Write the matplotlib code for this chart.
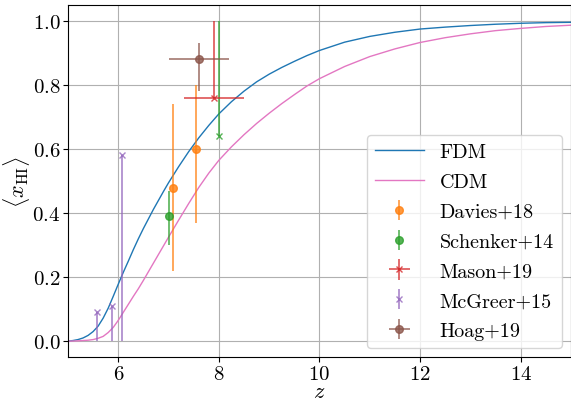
import numpy as np
import matplotlib
matplotlib.use("Agg")
import matplotlib.pyplot as plt

plt.rcParams["font.family"] = "serif"
plt.rcParams["font.serif"] = ["cmr10", "DejaVu Serif"]
plt.rcParams["mathtext.fontset"] = "cm"
plt.rcParams["axes.formatter.use_mathtext"] = True
plt.rcParams["font.size"] = 15

# reionization histories
z_fdm = [5.0, 5.1, 5.2, 5.3, 5.4, 5.5, 5.6, 5.7, 5.8, 5.9, 6.0, 6.1, 6.2, 6.3, 6.4,
         6.5, 6.6, 6.7, 6.8, 6.9, 7.0, 7.2, 7.4, 7.6, 7.8, 8.0, 8.25, 8.5, 8.75,
         9.0, 9.25, 9.5, 9.75, 10.0, 10.5, 11.0, 11.5, 12.0, 12.5, 13.0, 13.5,
         14.0, 14.5, 15.0]
x_fdm = [0.0, 0.002, 0.005, 0.01, 0.018, 0.03, 0.047, 0.072, 0.103, 0.14, 0.178,
         0.215, 0.25, 0.286, 0.32, 0.352, 0.382, 0.412, 0.44, 0.468, 0.495, 0.545,
         0.592, 0.635, 0.674, 0.71, 0.748, 0.781, 0.81, 0.834, 0.855, 0.874, 0.892,
         0.908, 0.934, 0.952, 0.965, 0.975, 0.981, 0.986, 0.99, 0.993, 0.995, 0.996]

z_cdm = [5.0, 5.2, 5.4, 5.5, 5.6, 5.7, 5.8, 5.9, 6.0, 6.1, 6.2, 6.3, 6.4, 6.5, 6.6,
         6.7, 6.8, 6.9, 7.0, 7.2, 7.4, 7.6, 7.8, 8.0, 8.25, 8.5, 8.75, 9.0, 9.25,
         9.5, 9.75, 10.0, 10.5, 11.0, 11.5, 12.0, 12.5, 13.0, 13.5, 14.0, 14.5, 15.0]
x_cdm = [0.0, 0.001, 0.003, 0.005, 0.009, 0.015, 0.027, 0.043, 0.065, 0.09, 0.115,
         0.14, 0.164, 0.19, 0.217, 0.244, 0.271, 0.298, 0.325, 0.378, 0.43, 0.48,
         0.525, 0.565, 0.607, 0.645, 0.68, 0.712, 0.742, 0.77, 0.797, 0.82, 0.858,
         0.889, 0.913, 0.933, 0.948, 0.96, 0.97, 0.977, 0.983, 0.987]

# observational constraints
davies_z = [7.09, 7.54]
davies_x = [0.48, 0.60]
davies_lo = [0.26, 0.23]
davies_hi = [0.26, 0.20]

schenker_z = [7.0]
schenker_x = [0.39]
schenker_lo = [0.09]
schenker_hi = [0.08]
schenker_lim_z = [8.0]
schenker_lim_x = [0.64]

mason_z = [7.9]
mason_x = [0.76]
mason_zlo = [0.6]
mason_zhi = [0.6]

mcgreer_z = [5.58, 5.87, 6.07]
mcgreer_x = [0.09, 0.11, 0.58]

hoag_z = [7.6]
hoag_x = [0.88]
hoag_lo = [0.10]
hoag_hi = [0.05]
hoag_zerr = [0.6]

fig = plt.figure(figsize=(5.71, 4.02), dpi=100)
ax = fig.add_axes([0.119, 0.109, 0.881, 0.876])

ax.plot(z_fdm, x_fdm, color="C0", lw=1.0, label="FDM")
ax.plot(z_cdm, x_cdm, color="C6", lw=1.0, label="CDM")

ekw = dict(alpha=0.8, ms=5.5, lw=1.2)
ax.errorbar(davies_z, davies_x, yerr=[davies_lo, davies_hi], fmt="o", color="C1",
            label="Davies+18", **ekw)
ax.errorbar(schenker_z, schenker_x, yerr=[schenker_lo, schenker_hi], fmt="o", color="C2",
            label="Schenker+14", **ekw)
lim = np.array(schenker_lim_x)
ax.errorbar(schenker_lim_z, lim, yerr=[np.zeros_like(lim), 1 - lim], fmt="x", color="C2",
            alpha=0.8, ms=5, lw=1.2)
mx = np.array(mason_x)
ax.errorbar(mason_z, mx, xerr=[mason_zlo, mason_zhi], yerr=[np.zeros_like(mx), 1 - mx],
            fmt="x", color="C3", label="Mason+19", alpha=0.8, ms=5, lw=1.2)
gx = np.array(mcgreer_x)
ax.errorbar(mcgreer_z, gx, yerr=[gx, np.zeros_like(gx)], fmt="x", color="C4",
            label="McGreer+15", alpha=0.8, ms=5, lw=1.2)
ax.errorbar(hoag_z, hoag_x, xerr=hoag_zerr, yerr=[hoag_lo, hoag_hi], fmt="o", color="C5",
            label="Hoag+19", **ekw)

ax.set_xlim(5, 15)
ax.set_ylim(-0.05, 1.05)
ax.set_xticks([6, 8, 10, 12, 14])
ax.set_yticks([0.0, 0.2, 0.4, 0.6, 0.8, 1.0])
ax.grid(True, color="#b0b0b0", lw=0.8)
ax.tick_params(labelsize=15, pad=2)
ax.set_xlabel(r"$z$", fontsize=16, labelpad=-1)
ax.set_ylabel(r"$\langle x_{\rm HI} \rangle$", fontsize=16, labelpad=0)
ax.legend(loc="lower right", fontsize=14.5, borderaxespad=0.45,
          handlelength=2.4, labelspacing=0.58)

fig.savefig("out.png", dpi=100)
